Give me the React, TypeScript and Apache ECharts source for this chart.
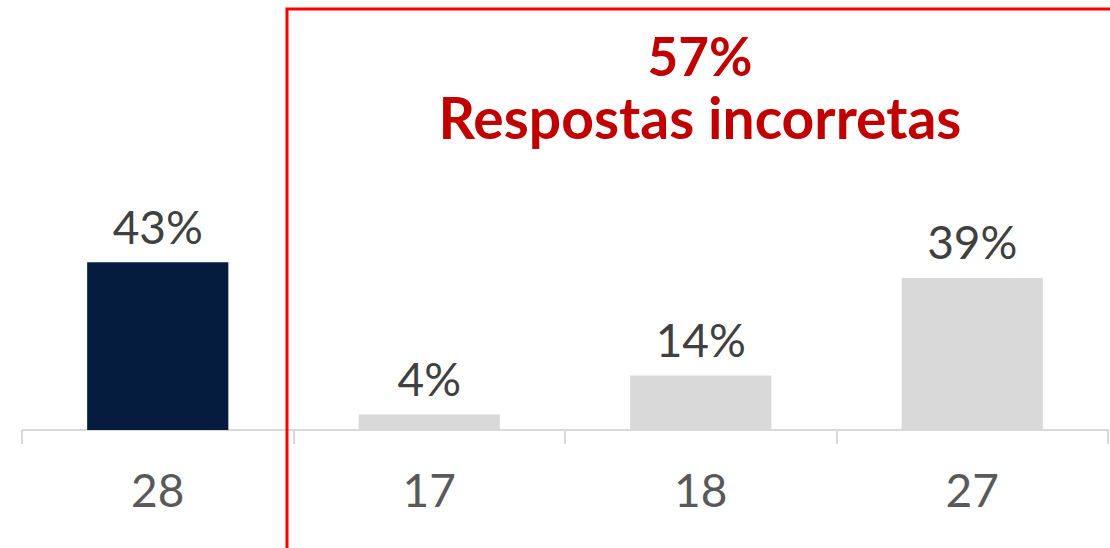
import React, { useEffect, useRef } from "react";
import * as echarts from "echarts";

const categories = ["28", "17", "18", "27"];
const values = [43, 4, 14, 39];
const barColors = ["#061c3f", "#d9d9d9", "#d9d9d9", "#d9d9d9"];
const headline = "57%";
const subline = "Respostas incorretas";

export default function App() {
  const ref = useRef<HTMLDivElement>(null);
  useEffect(() => {
    document.body.style.margin = "0";
    const chart = echarts.init(ref.current!, null, { renderer: "svg" });
    chart.setOption({
      animation: false,
      grid: { left: 22, right: 2, top: 40, bottom: 118 },
      xAxis: {
        type: "category",
        data: categories,
        axisLine: { lineStyle: { color: "#d9d9d9", width: 2 } },
        axisTick: { show: true, length: 14, lineStyle: { color: "#d9d9d9", width: 2 } },
        axisLabel: { fontSize: 46, color: "#595959", margin: 36, fontFamily: "Lato, 'Noto Sans', sans-serif" },
      },
      yAxis: { type: "value", min: 0, max: 100, show: false },
      series: [
        {
          type: "bar",
          barWidth: "52%",
          data: values.map((v, i) => ({ value: v, itemStyle: { color: barColors[i] } })),
          label: {
            show: true,
            position: "top",
            distance: 13,
            formatter: "{c}%",
            fontSize: 46,
            color: "#404040",
            fontFamily: "Lato, 'Noto Sans', sans-serif",
          },
        },
      ],
      graphic: [
        {
          type: "rect",
          shape: { x: 287, y: 9, width: 900, height: 600 },
          style: { fill: "none", stroke: "#ff0000", lineWidth: 3 },
          z: 10,
        },
        {
          type: "text",
          x: 700,
          y: 55,
          style: {
            text: headline,
            align: "center",
            verticalAlign: "middle",
            fontSize: 53,
            fontWeight: "bold",
            fill: "#c00000",
            fontFamily: "Lato, 'Noto Sans', sans-serif",
          },
        },
        {
          type: "text",
          x: 700,
          y: 117,
          style: {
            text: subline,
            align: "center",
            verticalAlign: "middle",
            fontSize: 57,
            fontWeight: "bold",
            fill: "#c00000",
            fontFamily: "Lato, 'Noto Sans', sans-serif",
          },
        },
      ],
    });
    return () => chart.dispose();
  }, []);
  return <div ref={ref} style={{ position: "absolute", left: 0, top: 0, width: 1110, height: 548 }} />;
}
